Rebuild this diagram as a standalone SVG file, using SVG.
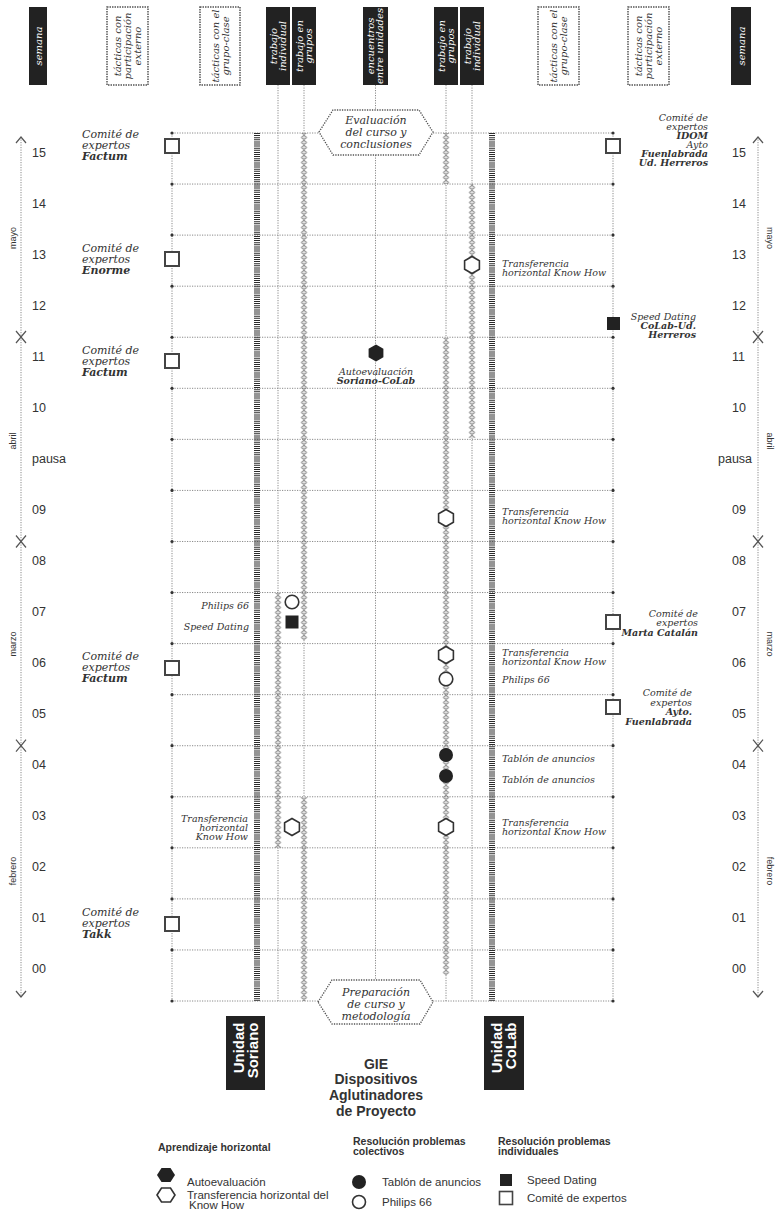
<svg xmlns="http://www.w3.org/2000/svg" width="777" height="1213" viewBox="0 0 777 1213">
<defs>
<style>
.dot{stroke:#8a8a8a;stroke-width:1;stroke-dasharray:1.2 1.3;fill:none}
.hat{stroke:#2a2a2a;stroke-width:6;stroke-dasharray:1 1.1}
.end{fill:#333}
.arr{stroke:#555;stroke-width:1.2;fill:none}
.t{font-family:"DejaVu Serif","Liberation Serif",serif;font-style:italic;fill:#333;font-size:11px}
.s{font-size:9.5px}
.b{font-weight:bold}
.r{text-anchor:end}
.m{text-anchor:middle}
.n{font-family:"Liberation Sans",Arial,sans-serif;font-size:12.5px;fill:#333}
.mo{font-family:"Liberation Sans",Arial,sans-serif;font-size:9px;fill:#333;text-anchor:middle}
.h{font-family:"DejaVu Serif","Liberation Serif",serif;font-style:italic;font-size:10px;text-anchor:middle}
.hw{fill:#fff}
.hk{fill:#333}
.blk{fill:#222}
.dbox{fill:#fff;stroke:#555;stroke-width:1.5;stroke-dasharray:1.5 1}
.sq{fill:#fff;stroke:#444;stroke-width:2}
.fl{fill:#222}
.ol{fill:#fff;stroke:#333;stroke-width:1.6}
.leg{font-family:"Liberation Sans",Arial,sans-serif;font-size:11.5px;fill:#333}
.lt{font-family:"Liberation Sans",Arial,sans-serif;font-size:10.5px;font-weight:bold;fill:#333}
.big{font-family:"Liberation Sans",Arial,sans-serif;font-size:14px;font-weight:bold;fill:#333;text-anchor:middle}
.u{font-family:"Liberation Sans",Arial,sans-serif;font-size:15px;font-weight:bold;fill:#fff;text-anchor:end}
.shape{fill:#fff;stroke:#555;stroke-width:1.3;stroke-dasharray:1.3 1.2}
</style>
<pattern id="ch" width="7" height="5" patternUnits="userSpaceOnUse"><path d="M3.5 0.4 L6.2 2.5 L3.5 4.6 L0.8 2.5 Z" fill="none" stroke="#666" stroke-width="1"/></pattern>
<path id="hx" d="M0 -8.5 L7.4 -4.25 L7.4 4.25 L0 8.5 L-7.4 4.25 L-7.4 -4.25 Z"/>
<path id="hxl" d="M-9 0 L-4.5 -7 L4.5 -7 L9 0 L4.5 7 L-4.5 7 Z"/>
</defs>
<rect width="777" height="1213" fill="#fff"/>

<g id="connectors">
  <line class="dot" x1="172" y1="133" x2="172" y2="1001"/>
  <line class="dot" x1="613" y1="133" x2="613" y2="1001"/>
  <line class="dot" x1="278" y1="85" x2="278" y2="1001"/>
  <line class="dot" x1="304" y1="85" x2="304" y2="1001"/>
  <line class="dot" x1="375.5" y1="85" x2="375.5" y2="111"/>
  <line class="dot" x1="375.5" y1="155" x2="375.5" y2="980"/>
  <line class="dot" x1="446" y1="85" x2="446" y2="1001"/>
  <line class="dot" x1="472" y1="85" x2="472" y2="1001"/>
  <g id="weeklines">
    <line class="dot" x1="172" y1="133" x2="319" y2="133"/><line class="dot" x1="433" y1="133" x2="613" y2="133"/>
    <line class="dot" x1="172" y1="184.06" x2="613" y2="184.06"/>
    <line class="dot" x1="172" y1="235.12" x2="613" y2="235.12"/>
    <line class="dot" x1="172" y1="286.18" x2="613" y2="286.18"/>
    <line class="dot" x1="172" y1="337.24" x2="613" y2="337.24"/>
    <line class="dot" x1="172" y1="388.3" x2="613" y2="388.3"/>
    <line class="dot" x1="172" y1="439.36" x2="613" y2="439.36"/>
    <line class="dot" x1="172" y1="490.42" x2="613" y2="490.42"/>
    <line class="dot" x1="172" y1="541.48" x2="613" y2="541.48"/>
    <line class="dot" x1="172" y1="592.54" x2="613" y2="592.54"/>
    <line class="dot" x1="172" y1="643.6" x2="613" y2="643.6"/>
    <line class="dot" x1="172" y1="694.66" x2="613" y2="694.66"/>
    <line class="dot" x1="172" y1="745.72" x2="613" y2="745.72"/>
    <line class="dot" x1="172" y1="796.78" x2="613" y2="796.78"/>
    <line class="dot" x1="172" y1="847.84" x2="613" y2="847.84"/>
    <line class="dot" x1="172" y1="898.9" x2="613" y2="898.9"/>
    <line class="dot" x1="172" y1="949.96" x2="613" y2="949.96"/>
    <line class="dot" x1="172" y1="1001" x2="318" y2="1001"/><line class="dot" x1="433" y1="1001" x2="613" y2="1001"/>
  </g>
  <g id="enddots" class="end">
    <circle cx="172" cy="133" r="1.6"/><circle cx="613" cy="133" r="1.6"/>
    <circle cx="172" cy="184.06" r="1.6"/><circle cx="613" cy="184.06" r="1.6"/>
    <circle cx="172" cy="235.12" r="1.6"/><circle cx="613" cy="235.12" r="1.6"/>
    <circle cx="172" cy="286.18" r="1.6"/><circle cx="613" cy="286.18" r="1.6"/>
    <circle cx="172" cy="337.24" r="1.6"/><circle cx="613" cy="337.24" r="1.6"/>
    <circle cx="172" cy="388.3" r="1.6"/><circle cx="613" cy="388.3" r="1.6"/>
    <circle cx="172" cy="439.36" r="1.6"/><circle cx="613" cy="439.36" r="1.6"/>
    <circle cx="172" cy="490.42" r="1.6"/><circle cx="613" cy="490.42" r="1.6"/>
    <circle cx="172" cy="541.48" r="1.6"/><circle cx="613" cy="541.48" r="1.6"/>
    <circle cx="172" cy="592.54" r="1.6"/><circle cx="613" cy="592.54" r="1.6"/>
    <circle cx="172" cy="643.6" r="1.6"/><circle cx="613" cy="643.6" r="1.6"/>
    <circle cx="172" cy="694.66" r="1.6"/><circle cx="613" cy="694.66" r="1.6"/>
    <circle cx="172" cy="745.72" r="1.6"/><circle cx="613" cy="745.72" r="1.6"/>
    <circle cx="172" cy="796.78" r="1.6"/><circle cx="613" cy="796.78" r="1.6"/>
    <circle cx="172" cy="847.84" r="1.6"/><circle cx="613" cy="847.84" r="1.6"/>
    <circle cx="172" cy="898.9" r="1.6"/><circle cx="613" cy="898.9" r="1.6"/>
    <circle cx="172" cy="949.96" r="1.6"/><circle cx="613" cy="949.96" r="1.6"/>
    <circle cx="172" cy="1001" r="1.6"/><circle cx="613" cy="1001" r="1.6"/>
  </g>
  <line class="hat" x1="257" y1="133" x2="257" y2="1001"/>
  <line class="hat" x1="492" y1="133" x2="492" y2="1001"/>
  <g transform="translate(300.5 0)"><rect x="0" y="133" width="7" height="507" fill="url(#ch)"/><rect x="0" y="797" width="7" height="204" fill="url(#ch)"/></g>
  <g transform="translate(274.5 0)"><rect x="0" y="593" width="7" height="255" fill="url(#ch)"/></g>
  <g transform="translate(442.5 0)"><rect x="0" y="133" width="7" height="51" fill="url(#ch)"/><rect x="0" y="338" width="7" height="637" fill="url(#ch)"/></g>
  <g transform="translate(468.5 0)"><rect x="0" y="184" width="7" height="254" fill="url(#ch)"/></g>
</g>

<g id="timeline-left">
  <line class="dot" x1="21" y1="137" x2="21" y2="997"/>
  <polyline class="arr" points="16,143 21,137 26,143"/>
  <polyline class="arr" points="16,331 21,337 26,331"/><polyline class="arr" points="16,343 21,337 26,343"/>
  <polyline class="arr" points="16,535.5 21,541.5 26,535.5"/><polyline class="arr" points="16,547.5 21,541.5 26,547.5"/>
  <polyline class="arr" points="16,739.7 21,745.7 26,739.7"/><polyline class="arr" points="16,751.7 21,745.7 26,751.7"/>
  <polyline class="arr" points="16,991 21,997 26,991"/>
  <text class="mo" transform="translate(16 238) rotate(-90)">mayo</text>
  <text class="mo" transform="translate(16 441) rotate(-90)">abril</text>
  <text class="mo" transform="translate(16 644) rotate(-90)">marzo</text>
  <text class="mo" transform="translate(16 871) rotate(-90)">febrero</text>
  <g class="n">
    <text x="32" y="157">15</text><text x="32" y="208">14</text><text x="32" y="259">13</text><text x="32" y="310">12</text>
    <text x="32" y="361">11</text><text x="32" y="412">10</text><text x="32" y="463">pausa</text><text x="32" y="514">09</text>
    <text x="32" y="565">08</text><text x="32" y="616">07</text><text x="32" y="667">06</text><text x="32" y="718">05</text>
    <text x="32" y="769">04</text><text x="32" y="820">03</text><text x="32" y="871">02</text><text x="32" y="922">01</text><text x="32" y="973">00</text>
  </g>
</g>

<g id="timeline-right">
  <line class="dot" x1="758" y1="137" x2="758" y2="997"/>
  <polyline class="arr" points="753,143 758,137 763,143"/>
  <polyline class="arr" points="753,331 758,337 763,331"/><polyline class="arr" points="753,343 758,337 763,343"/>
  <polyline class="arr" points="753,535.5 758,541.5 763,535.5"/><polyline class="arr" points="753,547.5 758,541.5 763,547.5"/>
  <polyline class="arr" points="753,739.7 758,745.7 763,739.7"/><polyline class="arr" points="753,751.7 758,745.7 763,751.7"/>
  <polyline class="arr" points="753,991 758,997 763,991"/>
  <text class="mo" transform="translate(767 238) rotate(90)">mayo</text>
  <text class="mo" transform="translate(767 441) rotate(90)">abril</text>
  <text class="mo" transform="translate(767 644) rotate(90)">marzo</text>
  <text class="mo" transform="translate(767 871) rotate(90)">febrero</text>
  <g class="n">
    <text x="732" y="157">15</text><text x="732" y="208">14</text><text x="732" y="259">13</text><text x="732" y="310">12</text>
    <text x="732" y="361">11</text><text x="732" y="412">10</text><text x="718" y="463">pausa</text><text x="732" y="514">09</text>
    <text x="732" y="565">08</text><text x="732" y="616">07</text><text x="732" y="667">06</text><text x="732" y="718">05</text>
    <text x="732" y="769">04</text><text x="732" y="820">03</text><text x="732" y="871">02</text><text x="732" y="922">01</text><text x="732" y="973">00</text>
  </g>
</g>

<g id="headers">
  <g id="h-semana-l"><rect class="blk" x="29" y="7" width="18" height="78"/><text class="h hw" transform="translate(41.5 46) rotate(-90)">semana</text></g>
  <g id="h-ext-l"><rect class="dbox" x="107" y="7" width="41" height="78"/><text class="h hk" transform="translate(120.5 46) rotate(-90)"><tspan x="0" y="0">tácticas con</tspan><tspan x="0" y="10">participación</tspan><tspan x="0" y="20">externo</tspan></text></g>
  <g id="h-grupo-l"><rect class="dbox" x="200" y="7" width="40" height="78"/><text class="h hk" transform="translate(218.5 46) rotate(-90)"><tspan x="0" y="0">tácticas con el</tspan><tspan x="0" y="10">grupo-clase</tspan></text></g>
  <g id="h-ind-l"><rect class="blk" x="266" y="7" width="24" height="78"/><text class="h hw" transform="translate(276.5 46) rotate(-90)"><tspan x="0" y="0">trabajo</tspan><tspan x="0" y="9">individual</tspan></text></g>
  <g id="h-grp-l"><rect class="blk" x="292" y="7" width="24" height="78"/><text class="h hw" transform="translate(302.5 46) rotate(-90)"><tspan x="0" y="0">trabajo en</tspan><tspan x="0" y="9">grupos</tspan></text></g>
  <g id="h-enc"><rect class="blk" x="363" y="7" width="25" height="78"/><text class="h hw" transform="translate(374 46) rotate(-90)"><tspan x="0" y="0">encuentros</tspan><tspan x="0" y="9">entre unidades</tspan></text></g>
  <g id="h-grp-r"><rect class="blk" x="434" y="7" width="24" height="78"/><text class="h hw" transform="translate(444.5 46) rotate(-90)"><tspan x="0" y="0">trabajo en</tspan><tspan x="0" y="9">grupos</tspan></text></g>
  <g id="h-ind-r"><rect class="blk" x="460" y="7" width="24" height="78"/><text class="h hw" transform="translate(470.5 46) rotate(-90)"><tspan x="0" y="0">trabajo</tspan><tspan x="0" y="9">individual</tspan></text></g>
  <g id="h-grupo-r"><rect class="dbox" x="538" y="7" width="41" height="78"/><text class="h hk" transform="translate(557 46) rotate(-90)"><tspan x="0" y="0">tácticas con el</tspan><tspan x="0" y="10">grupo-clase</tspan></text></g>
  <g id="h-ext-r"><rect class="dbox" x="628" y="7" width="41" height="78"/><text class="h hk" transform="translate(641.5 46) rotate(-90)"><tspan x="0" y="0">tácticas con</tspan><tspan x="0" y="10">participación</tspan><tspan x="0" y="20">externo</tspan></text></g>
  <g id="h-semana-r"><rect class="blk" x="731" y="7" width="20" height="78"/><text class="h hw" transform="translate(744.5 46) rotate(-90)">semana</text></g>
</g>

<g id="node-evaluacion">
  <path class="shape" d="M319 132 L333 110 L419 110 L433 132 L419 155 L333 155 Z"/>
  <text class="t m"><tspan x="376" y="124">Evaluación</tspan><tspan x="376" y="136">del curso y</tspan><tspan x="376" y="148">conclusiones</tspan></text>
</g>
<g id="node-preparacion">
  <path class="shape" d="M318 1002 L332 980 L420 980 L433 1002 L420 1024 L332 1024 Z"/>
  <text class="t m"><tspan x="376" y="996">Preparación</tspan><tspan x="376" y="1008">de curso y</tspan><tspan x="376" y="1020">metodología</tspan></text>
</g>

<g id="markers">
  <rect id="sq-l15" class="sq" x="165" y="139" width="14" height="14"/>
  <rect id="sq-l13" class="sq" x="165" y="252" width="14" height="14"/>
  <rect id="sq-l11" class="sq" x="165" y="354" width="14" height="14"/>
  <rect id="sq-l06" class="sq" x="165" y="661" width="14" height="14"/>
  <rect id="sq-l01" class="sq" x="165" y="917" width="14" height="14"/>
  <rect id="sq-r15" class="sq" x="606" y="139" width="14" height="14"/>
  <rect id="sq-r07" class="sq" x="606" y="615" width="14" height="14"/>
  <rect id="sq-r05" class="sq" x="606" y="700" width="14" height="14"/>
  <rect id="fsq-r12" class="fl" x="607" y="317" width="13" height="13"/>
  <rect id="fsq-l07" class="fl" x="285.5" y="615.5" width="13" height="13"/>
  <use id="fhx-auto" href="#hx" class="fl" x="376" y="353"/>
  <use id="hx-r13" href="#hx" class="ol" x="472" y="265"/>
  <use id="hx-r09" href="#hx" class="ol" x="446" y="518"/>
  <use id="hx-r06" href="#hx" class="ol" x="446" y="655"/>
  <use id="hx-r03" href="#hx" class="ol" x="446" y="827"/>
  <use id="hx-l03" href="#hx" class="ol" x="292" y="827"/>
  <circle id="c-l07" class="ol" cx="292" cy="602" r="6.8"/>
  <circle id="c-r06" class="ol" cx="446" cy="679" r="6.8"/>
  <circle id="fc-r04a" class="fl" cx="446" cy="755" r="7"/>
  <circle id="fc-r04b" class="fl" cx="446" cy="776" r="7"/>
</g>

<g id="labels">
  <text class="t"><tspan x="82" y="138">Comité de</tspan><tspan x="82" y="149">expertos</tspan><tspan x="82" y="160" class="b">Factum</tspan></text>
  <text class="t"><tspan x="82" y="252">Comité de</tspan><tspan x="82" y="263">expertos</tspan><tspan x="82" y="274" class="b">Enorme</tspan></text>
  <text class="t"><tspan x="82" y="354">Comité de</tspan><tspan x="82" y="365">expertos</tspan><tspan x="82" y="376" class="b">Factum</tspan></text>
  <text class="t"><tspan x="82" y="660">Comité de</tspan><tspan x="82" y="671">expertos</tspan><tspan x="82" y="682" class="b">Factum</tspan></text>
  <text class="t"><tspan x="82" y="916">Comité de</tspan><tspan x="82" y="927">expertos</tspan><tspan x="82" y="938" class="b">Takk</tspan></text>

  <text class="t s r"><tspan x="708" y="121">Comité de</tspan><tspan x="708" y="130">expertos</tspan><tspan x="708" y="139" class="b">IDOM</tspan><tspan x="708" y="148">Ayto</tspan><tspan x="708" y="157" class="b">Fuenlabrada</tspan><tspan x="708" y="166" class="b">Ud. Herreros</tspan></text>
  <text class="t s r"><tspan x="696" y="320">Speed Dating</tspan><tspan x="696" y="329" class="b">CoLab-Ud.</tspan><tspan x="696" y="338" class="b">Herreros</tspan></text>
  <text class="t s r"><tspan x="698" y="617">Comité de</tspan><tspan x="698" y="626">expertos</tspan><tspan x="698" y="636" class="b">Marta Catalán</tspan></text>
  <text class="t s r"><tspan x="692" y="696">Comité de</tspan><tspan x="692" y="705.5">expertos</tspan><tspan x="692" y="715" class="b">Ayto.</tspan><tspan x="692" y="724.5" class="b">Fuenlabrada</tspan></text>

  <text class="t s"><tspan x="502" y="267">Transferencia</tspan><tspan x="502" y="276">horizontal Know How</tspan></text>
  <text class="t s"><tspan x="502" y="515">Transferencia</tspan><tspan x="502" y="524">horizontal Know How</tspan></text>
  <text class="t s"><tspan x="502" y="656">Transferencia</tspan><tspan x="502" y="665">horizontal Know How</tspan></text>
  <text class="t s" x="502" y="683">Philips 66</text>
  <text class="t s" x="502" y="762">Tablón de anuncios</text>
  <text class="t s" x="502" y="783">Tablón de anuncios</text>
  <text class="t s"><tspan x="502" y="826">Transferencia</tspan><tspan x="502" y="835">horizontal Know How</tspan></text>

  <text class="t s r" x="249" y="609">Philips 66</text>
  <text class="t s r" x="249" y="630">Speed Dating</text>
  <text class="t s r"><tspan x="248" y="822">Transferencia</tspan><tspan x="248" y="831">horizontal</tspan><tspan x="248" y="840">Know How</tspan></text>

  <text class="t s m"><tspan x="376" y="375">Autoevaluación</tspan><tspan x="376" y="384" class="b">Soriano-CoLab</tspan></text>
</g>

<g id="node-soriano">
  <rect class="blk" x="226" y="1016" width="39" height="74"/>
  <text class="u" transform="translate(244 1022.5) rotate(-90)"><tspan x="0" y="0">Unidad</tspan><tspan x="0" y="13.5">Soriano</tspan></text>
</g>
<g id="node-colab">
  <rect class="blk" x="484" y="1016" width="40" height="74"/>
  <text class="u" transform="translate(501.5 1022.5) rotate(-90)"><tspan x="0" y="0">Unidad</tspan><tspan x="0" y="14">CoLab</tspan></text>
</g>
<g id="title">
  <text class="big"><tspan x="376" y="1068.5">GIE</tspan><tspan x="376" y="1084.2">Dispositivos</tspan><tspan x="376" y="1099.9">Aglutinadores</tspan><tspan x="376" y="1115.6">de Proyecto</tspan></text>
</g>

<g id="legend">
  <text class="lt" x="158" y="1151">Aprendizaje horizontal</text>
  <text class="lt"><tspan x="353" y="1145">Resolución problemas</tspan><tspan x="353" y="1155">colectivos</tspan></text>
  <text class="lt"><tspan x="498" y="1145">Resolución problemas</tspan><tspan x="498" y="1155">individuales</tspan></text>
  <use href="#hxl" class="fl" x="166" y="1175"/>
  <use href="#hxl" class="ol" x="166" y="1195"/>
  <text class="leg" x="187" y="1186">Autoevaluación</text>
  <text class="leg"><tspan x="187" y="1199">Transferencia horizontal del</tspan><tspan x="189" y="1209">Know How</tspan></text>
  <circle class="fl" cx="359" cy="1182" r="7"/>
  <circle class="ol" cx="359" cy="1202" r="6.5"/>
  <text class="leg" x="382" y="1186">Tablón de anuncios</text>
  <text class="leg" x="382" y="1206">Philips 66</text>
  <rect class="fl" x="500" y="1174" width="12" height="12"/>
  <rect class="sq" x="499.5" y="1191.5" width="13" height="13" style="stroke-width:1.6"/>
  <text class="leg" x="527" y="1184">Speed Dating</text>
  <text class="leg" x="527" y="1202">Comité de expertos</text>
</g>
</svg>
